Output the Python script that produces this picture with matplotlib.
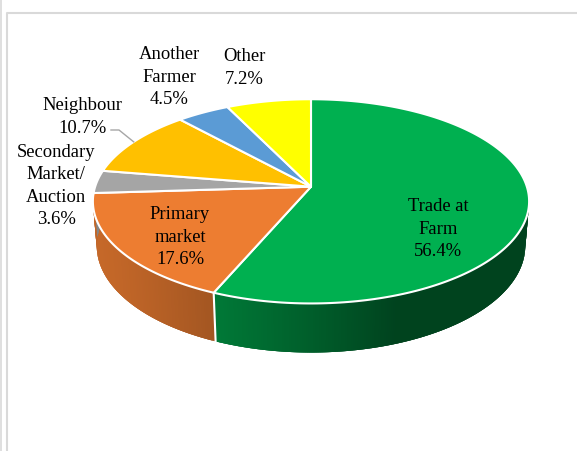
import numpy as np
import matplotlib
matplotlib.use("Agg")
import matplotlib.pyplot as plt
from matplotlib.colors import to_rgb
from matplotlib.patches import Polygon

"""Chart data"""
categories = ["Trade at\nFarm", "Primary\nmarket", "Secondary\nMarket/\nAuction",
              "Neighbour", "Another\nFarmer", "Other"]
shares = [56.4, 17.6, 3.6, 10.7, 4.5, 7.2]
colors = ["#00B050", "#ED7D31", "#A5A5A5", "#FFC000", "#5B9BD5", "#FFFF00"]

"""Label anchors (pixel layout)"""
label_pos = [(438, 229), (180, 237), (56, 186), (82, 117), (169, 77), (244, 68)]

"""Perspective camera for the tilted pie"""
CX, CY = 311.0, 186.7
F = 1334.0
D = 6.18
TILT = np.radians(27.6)
S, C = np.sin(TILT), np.cos(TILT)
H = 0.235


def project(a, h=0.0, r=1.0):
    u, v = r * np.sin(a), r * np.cos(a)
    depth = D + v * C - h * S
    return CX + F * u / depth, CY - F * (v * S + h * C) / depth


def shade(a):
    # light from the left-front
    return 0.38 + 0.45 * np.maximum(0, np.cos(a - np.radians(250)))


fig = plt.figure(figsize=(5.77, 4.51), dpi=100)
ax = fig.add_axes([0, 0, 1, 1])
ax.set_xlim(0, 577)
ax.set_ylim(451, 0)
ax.axis("off")

# outer frame
ax.plot([1, 1], [0, 451], color="#d9d9d9", lw=1.2)
ax.plot([6.5, 6.5, 577], [451, 12.5, 12.5], color="#d9d9d9", lw=1.5)

fracs = np.array(shares) / sum(shares)
edges = np.concatenate([[0], np.cumsum(fracs)]) * 2 * np.pi

# sides (front half only is visible); each strip overlaps the next to hide seams
for i in range(len(shares)):
    a0, a1 = edges[i], edges[i + 1]
    n = max(2, int(np.degrees(a1 - a0) * 2))
    aa = np.linspace(a0, a1, n + 1)
    base = np.array(to_rgb(colors[i]))
    for j in range(n):
        am = 0.5 * (aa[j] + aa[j + 1])
        if np.cos(am) > 0.2:
            continue
        k = min(j + 3, n)
        seg = aa[j:k + 1]
        xt, yt = project(seg, 0.0)
        xb, yb = project(seg[::-1], -H)
        pts = list(zip(xt, yt)) + list(zip(xb, yb))
        col = np.clip(base * shade(am), 0, 1)
        ax.add_patch(Polygon(pts, closed=True, facecolor=col, edgecolor="none",
                             zorder=1))

# white seams on the side at slice boundaries
for a in edges[1:-1]:
    if np.cos(a) < -0.14:
        xt, yt = project(a, 0.0)
        xb, yb = project(a, -H)
        ax.plot([xt, xb], [yt, yb], color="white", lw=1.5, zorder=2)

# top faces
for i in range(len(shares)):
    aa = np.linspace(edges[i], edges[i + 1], 200)
    xs, ys = project(aa, 0.0)
    pts = [(CX, CY)] + list(zip(xs, ys))
    ax.add_patch(Polygon(pts, closed=True, facecolor=colors[i], edgecolor="white",
                         lw=1.5, joinstyle="round", zorder=3))

# labels
font = dict(family="Liberation Serif", fontsize=13.4, color="black",
            ha="center", va="center", linespacing=1.4, zorder=5)
for i in range(len(shares)):
    ax.text(label_pos[i][0], label_pos[i][1], f"{categories[i]}\n{shares[i]}%", **font)

# leader line for Neighbour
mid = 0.5 * (edges[3] + edges[4])
lx, ly = project(mid, 0.0)
ax.plot([111, 119, lx], [130, 130, ly], color="#a6a6a6", lw=1.0, zorder=4)

fig.savefig("out.png", dpi=100, facecolor="white")
